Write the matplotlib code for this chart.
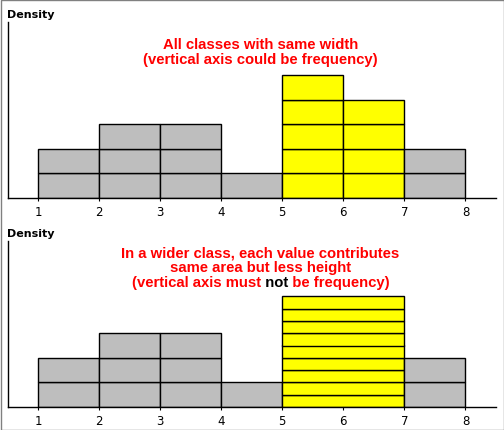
import matplotlib
matplotlib.use("Agg")
import matplotlib.pyplot as plt
from matplotlib.patches import Rectangle
from matplotlib.transforms import Bbox

# class edges and counts for each panel
top_edges = [1, 2, 3, 4, 5, 6, 7, 8]
top_counts = [2, 3, 3, 1, 5, 4, 2]
top_highlight = [False, False, False, False, True, True, False]

bottom_edges = [1, 2, 3, 4, 5, 7, 8]
bottom_counts = [2, 3, 3, 1, 9, 2]
bottom_highlight = [False, False, False, False, True, False]

tick_values = [1, 2, 3, 4, 5, 6, 7, 8]

top_lines = ["All classes with same width", "(vertical axis could be frequency)"]
bottom_lines = ["In a wider class, each value contributes", "same area but less height"]
bottom_last = ["(vertical axis must ", "not", " be frequency)"]

W, H = 504, 431
GRAY = "#bebebe"
YELLOW = "#ffff00"
RED = "#ff0000"
TITLE_FONT = "Liberation Sans"
TITLE_SIZE = 10.7

fig = plt.figure(figsize=(W / 100, H / 100), dpi=100)


def px_axes(left, top, right, bottom):
    return fig.add_axes([left / W, 1 - bottom / H, (right - left) / W, (bottom - top) / H])


def draw_hist(ax, edges, counts, highlight, ymax):
    for i, n in enumerate(counts):
        width = edges[i + 1] - edges[i]
        color = YELLOW if highlight[i] else GRAY
        for k in range(n):
            ax.bar(edges[i], 1 / width, width=width, bottom=k / width, align="edge",
                   color=color, edgecolor="black", linewidth=1.0)
    ax.set_xlim(0.5, 8.5)
    ax.set_ylim(0, ymax)
    ax.set_xticks(tick_values)
    ax.set_xticklabels([str(v) for v in tick_values], fontsize=8.5, family="DejaVu Sans")
    ax.set_yticks([])
    ax.tick_params(axis="x", direction="out", length=2.5, width=0.8, pad=2.5)
    for s in ["top", "right"]:
        ax.spines[s].set_visible(False)
    for s in ["left", "bottom"]:
        ax.spines[s].set_linewidth(1.0)
    ax.patch.set_alpha(0)


ax1 = px_axes(7.5, 23, 496, 199)
draw_hist(ax1, top_edges, top_counts, top_highlight, 176 / 24.6)
ax2 = px_axes(7.5, 242, 496, 408)
draw_hist(ax2, bottom_edges, bottom_counts, bottom_highlight, 166 / 24.6)

fig.text(7 / W, 1 - 15 / H, "Density", fontsize=8, fontweight="bold", va="center", ha="left")
fig.text(7 / W, 1 - 234 / H, "Density", fontsize=8, fontweight="bold", va="center", ha="left")

cx = 260.5
tkw = dict(fontsize=TITLE_SIZE, fontweight="bold", family=TITLE_FONT, color=RED, ha="center", va="center")
for j, line in enumerate(top_lines):
    fig.text(cx / W, 1 - (45 + 15 * j) / H, line, **tkw)
for j, line in enumerate(bottom_lines):
    fig.text(cx / W, 1 - (253 + 15 * j) / H, line, **tkw)

# last line: same string drawn three times, each clipped to its own colour span
full = "".join(bottom_last)
renderer = fig.canvas.get_renderer()


def text_width(s):
    t = fig.text(0, 0, s, fontsize=TITLE_SIZE, fontweight="bold", family=TITLE_FONT)
    w = t.get_window_extent(renderer).width
    t.remove()
    return w


w_full = text_width(full)
w_a = text_width(bottom_last[0].rstrip())
w_b = text_width(bottom_last[0] + bottom_last[1])
x0 = cx - w_full / 2
y_line = 283
split1 = x0 + w_a + 1.5
split2 = x0 + w_b + 1.5
spans = [(0, split1, RED), (split1, split2, "black"), (split2, W, RED)]
for a, b, col in spans:
    t = fig.text(x0 / W, 1 - y_line / H, full, fontsize=TITLE_SIZE, fontweight="bold",
                 family=TITLE_FONT, color=col, ha="left", va="center")
    t.set_clip_box(Bbox.from_extents(a, 0, b, H))
    t.set_clip_on(True)

# grey frame round the whole picture
fig.patches.append(Rectangle((0.5 / W, 0.5 / H), 1 - 1 / W, 1 - 1 / H, transform=fig.transFigure,
                             fill=False, edgecolor="#808080", linewidth=1.0))

fig.savefig("out.png", dpi=100)
